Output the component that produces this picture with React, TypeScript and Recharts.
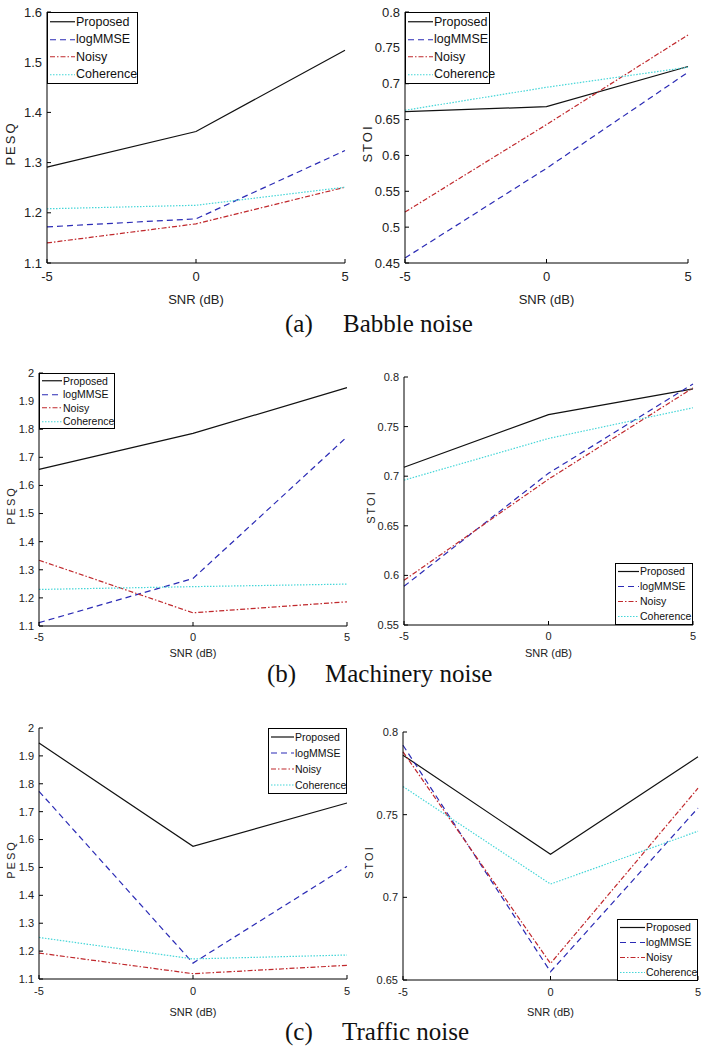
import { LineChart, Line, XAxis, YAxis, Legend } from "recharts";

const SNR = [-5, 0, 5];
const METHODS = ["Proposed", "logMMSE", "Noisy", "Coherence"];

// one row per method, in METHODS order, values at SNR -5 / 0 / 5 dB
const babblePesq = [
    [1.291, 1.362, 1.524],
    [1.172, 1.188, 1.324],
    [1.14, 1.178, 1.251],
    [1.208, 1.215, 1.251],
];
const babbleStoi = [
    [0.661, 0.668, 0.724],
    [0.457, 0.582, 0.716],
    [0.521, 0.643, 0.768],
    [0.663, 0.695, 0.723],
];
const machineryPesq = [
    [1.657, 1.785, 1.948],
    [1.112, 1.269, 1.773],
    [1.334, 1.147, 1.186],
    [1.23, 1.24, 1.249],
];
const machineryStoi = [
    [0.709, 0.762, 0.788],
    [0.589, 0.703, 0.793],
    [0.595, 0.697, 0.789],
    [0.696, 0.738, 0.769],
];
const trafficPesq = [
    [1.946, 1.576, 1.731],
    [1.773, 1.157, 1.504],
    [1.193, 1.119, 1.149],
    [1.249, 1.172, 1.186],
];
const trafficStoi = [
    [0.786, 0.726, 0.785],
    [0.792, 0.655, 0.754],
    [0.788, 0.66, 0.766],
    [0.767, 0.708, 0.74],
];

const pesqTicksA = [1.1, 1.2, 1.3, 1.4, 1.5, 1.6];
const pesqTicksBC = [1.1, 1.2, 1.3, 1.4, 1.5, 1.6, 1.7, 1.8, 1.9, 2];
const stoiTicksA = [0.45, 0.5, 0.55, 0.6, 0.65, 0.7, 0.75, 0.8];
const stoiTicksB = [0.55, 0.6, 0.65, 0.7, 0.75, 0.8];
const stoiTicksC = [0.65, 0.7, 0.75, 0.8];

const LINE_STYLE: Record<string, { color: string; dash?: string }> = {
    Proposed: { color: "#111111" },
    logMMSE: { color: "#2b2bb5", dash: "6 4" },
    Noisy: { color: "#c0282c", dash: "5 2 1.5 2" },
    Coherence: { color: "#45d6d8", dash: "1.5 1.5" },
};

const SANS = '"Liberation Sans", Arial, sans-serif';
const SERIF = '"Liberation Serif", "Times New Roman", serif';

const LEFT = 50;
const TOP = 12;
const RIGHT = 12;
const BOTTOM = 48;

type Rect = { x0: number; y0: number; x1: number; y1: number };
type LegendSpec = { x: number; y: number; w: number; row: number; sample: number; font: number };

type PanelProps = {
    values: number[][];
    yTicks: number[];
    yTitle: string;
    plot: Rect;
    legend: LegendSpec;
    font: number;
    xTickGap: number;
    xTitleGap: number;
    yTitleGap: number;
};

// axis titles: own prop names so the injected label props can't move them
const AxisTitle = ({ px, py, rotate, size, caption }: { px: number; py: number; rotate?: boolean; size: number; caption: string }) => (
    <text
        x={px}
        y={py}
        transform={rotate ? `rotate(-90 ${px} ${py})` : undefined}
        textAnchor="middle"
        dominantBaseline="central"
        fontFamily={SANS}
        fontSize={size}
        letterSpacing={rotate ? 2 : 0}
        fill="#222"
    >
        {caption}
    </text>
);

const LegendBox = ({ payload, spec }: { payload?: any[]; spec: LegendSpec }) => {
    const items = [...(payload || [])].sort((a, b) => METHODS.indexOf(a.value) - METHODS.indexOf(b.value));
    return (
        <div
            style={{
                width: spec.w,
                boxSizing: "border-box",
                border: "1px solid #000",
                background: "#fff",
                fontFamily: SANS,
                fontSize: spec.font,
                color: "#111",
                lineHeight: 1,
            }}
        >
            {items.map((entry) => {
                const st = LINE_STYLE[entry.value] || { color: entry.color };
                return (
                    <div key={entry.value} style={{ display: "flex", alignItems: "center", height: spec.row }}>
                        <svg width={spec.sample + 3} height={spec.row} style={{ flex: "none" }}>
                            <line
                                x1={2}
                                x2={spec.sample + 2}
                                y1={spec.row / 2}
                                y2={spec.row / 2}
                                stroke={st.color}
                                strokeWidth={1.2}
                                strokeDasharray={st.dash}
                            />
                        </svg>
                        <span style={{ whiteSpace: "nowrap" }}>{entry.value}</span>
                    </div>
                );
            })}
        </div>
    );
};

const Panel = (p: PanelProps) => {
    const { plot } = p;
    const plotW = plot.x1 - plot.x0;
    const plotH = plot.y1 - plot.y0;
    const width = plotW + LEFT + RIGHT;
    const height = plotH + TOP + BOTTOM;
    const left = plot.x0 - LEFT;
    const top = plot.y0 - TOP;
    const domain = [p.yTicks[0], p.yTicks[p.yTicks.length - 1]];

    const data = SNR.map((snr, i) => {
        const row: Record<string, number> = { snr };
        METHODS.forEach((m, k) => {
            row[m] = p.values[k][i];
        });
        return row;
    });

    const tickStyle = { fontFamily: SANS, fontSize: p.font, fill: "#222" };

    return (
        <div style={{ position: "absolute", left, top }}>
            <LineChart width={width} height={height} data={data} margin={{ top: TOP, right: RIGHT, left: 0, bottom: 0 }}>
                <XAxis
                    dataKey="snr"
                    type="number"
                    domain={[-5, 5]}
                    ticks={SNR}
                    interval={0}
                    height={BOTTOM}
                    stroke="#000"
                    tickSize={-4}
                    tickMargin={p.xTickGap + 4}
                    tick={tickStyle}
                    label={<AxisTitle px={LEFT + plotW / 2} py={TOP + plotH + p.xTitleGap} size={p.font} caption="SNR (dB)" />}
                />
                <XAxis
                    xAxisId="top"
                    orientation="top"
                    dataKey="snr"
                    type="number"
                    domain={[-5, 5]}
                    ticks={SNR}
                    interval={0}
                    height={0}
                    stroke="#000"
                    tickSize={-4}
                    tickFormatter={() => ""}
                />
                <YAxis
                    type="number"
                    domain={domain}
                    ticks={p.yTicks}
                    interval={0}
                    width={LEFT}
                    stroke="#000"
                    tickSize={-4}
                    tickMargin={9}
                    tick={tickStyle}
                    label={
                        <AxisTitle
                            px={LEFT - p.yTitleGap}
                            py={TOP + plotH / 2 + 6}
                            rotate
                            size={p.font}
                            caption={p.yTitle}
                        />
                    }
                />
                <YAxis
                    yAxisId="right"
                    orientation="right"
                    type="number"
                    domain={domain}
                    ticks={p.yTicks}
                    interval={0}
                    width={0}
                    stroke="#000"
                    tickSize={-4}
                    tickFormatter={() => ""}
                />
                <Legend
                    layout="vertical"
                    align="center"
                    verticalAlign="middle"
                    content={<LegendBox spec={p.legend} />}
                    wrapperStyle={{ left: p.legend.x - left, top: p.legend.y - top, width: p.legend.w }}
                />
                {METHODS.map((m) => (
                    <Line
                        key={m}
                        dataKey={m}
                        type="linear"
                        stroke={LINE_STYLE[m].color}
                        strokeDasharray={LINE_STYLE[m].dash}
                        strokeWidth={1.2}
                        dot={false}
                        activeDot={false}
                        isAnimationActive={false}
                    />
                ))}
            </LineChart>
        </div>
    );
};

const Caption = ({ tag, text, x, gap, y }: { tag: string; text: string; x: number; gap: number; y: number }) => (
    <>
        <text x={x} y={y} fontFamily={SERIF} fontSize={25} fill="#111">
            {tag}
        </text>
        <text x={x + gap} y={y} fontFamily={SERIF} fontSize={25} fill="#111">
            {text}
        </text>
    </>
);

export default function App() {
    return (
        <div style={{ position: "absolute", left: 0, top: 0, width: 707, height: 1050, background: "#fff" }}>
            <Panel
                values={babblePesq}
                yTicks={pesqTicksA}
                yTitle="PESQ"
                plot={{ x0: 47, y0: 12, x1: 345, y1: 263 }}
                legend={{ x: 47, y: 12, w: 91, row: 17.5, sample: 25, font: 12.5 }}
                font={13}
                xTickGap={9}
                xTitleGap={36}
                yTitleGap={37}
            />
            <Panel
                values={babbleStoi}
                yTicks={stoiTicksA}
                yTitle="STOI"
                plot={{ x0: 405, y0: 12, x1: 688, y1: 263 }}
                legend={{ x: 405, y: 12, w: 85, row: 17.5, sample: 25, font: 12.5 }}
                font={13}
                xTickGap={9}
                xTitleGap={36}
                yTitleGap={38}
            />
            <Panel
                values={machineryPesq}
                yTicks={pesqTicksBC}
                yTitle="PESQ"
                plot={{ x0: 39, y0: 373, x1: 347, y1: 626 }}
                legend={{ x: 39, y: 373, w: 76, row: 13.5, sample: 20, font: 10.5 }}
                font={11}
                xTickGap={7}
                xTitleGap={27}
                yTitleGap={28}
            />
            <Panel
                values={machineryStoi}
                yTicks={stoiTicksB}
                yTitle="STOI"
                plot={{ x0: 404, y0: 377, x1: 693, y1: 625 }}
                legend={{ x: 615, y: 563, w: 78, row: 15, sample: 21, font: 10.5 }}
                font={11}
                xTickGap={7}
                xTitleGap={28}
                yTitleGap={33}
            />
            <Panel
                values={trafficPesq}
                yTicks={pesqTicksBC}
                yTitle="PESQ"
                plot={{ x0: 39, y0: 728, x1: 347, y1: 979 }}
                legend={{ x: 268, y: 728, w: 79, row: 16, sample: 23, font: 10.5 }}
                font={11}
                xTickGap={8}
                xTitleGap={33}
                yTitleGap={28}
            />
            <Panel
                values={trafficStoi}
                yTicks={stoiTicksC}
                yTitle="STOI"
                plot={{ x0: 403, y0: 732, x1: 698, y1: 980 }}
                legend={{ x: 617, y: 919, w: 81, row: 15, sample: 25, font: 10.5 }}
                font={11}
                xTickGap={8}
                xTitleGap={32}
                yTitleGap={34}
            />
            <svg width={707} height={1050} style={{ position: "absolute", left: 0, top: 0, pointerEvents: "none" }}>
                <Caption tag="(a)" text="Babble noise" x={285} gap={58} y={332} />
                <Caption tag="(b)" text="Machinery noise" x={267} gap={58} y={682} />
                <Caption tag="(c)" text="Traffic noise" x={285} gap={57} y={1040} />
            </svg>
        </div>
    );
}
